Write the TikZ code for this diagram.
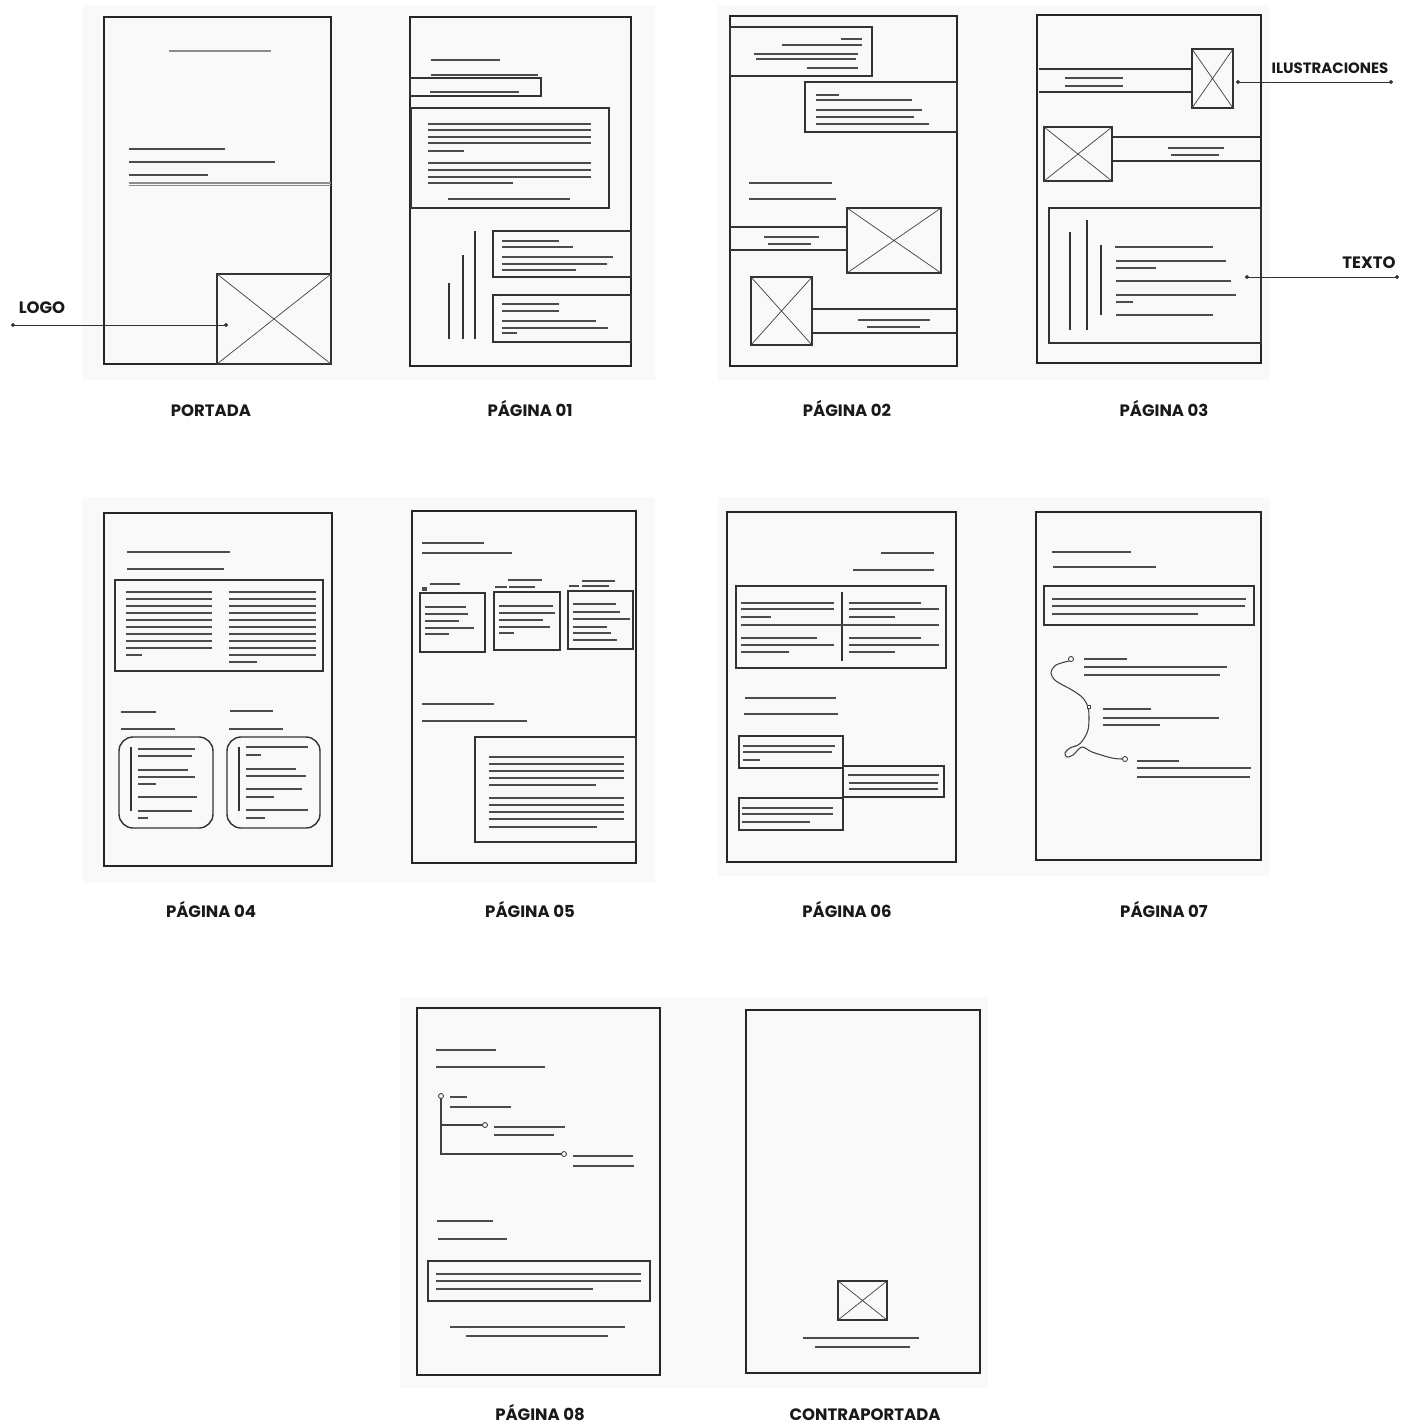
\documentclass[tikz,border=0pt]{standalone}
\usepackage{fontspec}
\newfontfamily\lblfont{Poppins}
\usetikzlibrary{arrows.meta}

\begin{document}
\begin{tikzpicture}[x=0.02cm, y=-0.02cm,
		sheet/.style={fill=black!2.5, draw=none},
		page/.style={draw=black!85, line width=1.3pt},
		box/.style={draw=black!80, line width=0.8pt},
		txt/.style={draw=black!70, line width=1pt},
		rule/.style={draw=black!80, line width=1.2pt},
		cross/.style={draw=black!75, line width=0.4pt},
		knot/.style={draw=black!75, line width=0.5pt, fill=white},
		pointer/.style={draw=black!80, line width=0.5pt, {Circle[length=2.2pt]}-{Circle[length=2.2pt]}},
		lbl/.style={anchor=base, font=\lblfont\bfseries\fontsize{9.4}{11}\selectfont, text=black!90}]
	\useasboundingbox (0,0) rectangle (1401,1424);

	% fotos de fondo
	\fill[sheet] (82,5) rectangle (655,380);
	\fill[sheet] (718,5) rectangle (1270,380);
	\fill[sheet] (82,497) rectangle (655,883);
	\fill[sheet] (718,497) rectangle (1270,876);
	\fill[sheet] (400,997) rectangle (988,1388);

	% portada
	\draw[page] (104,17) rectangle (331,364);
	\draw[txt, black!45] (169,51) -- (271,51);
	\draw[txt, line width=1.4pt] (129,149) -- (225,149);
	\draw[txt] (129,162) -- (275,162) (129,175) -- (208,175);
	\draw[txt, black!45] (129,183) -- (331,183) (129,185.5) -- (331,185.5);
	\draw[box] (217,274) rectangle (331,364);
	\draw[cross] (217,274) -- (331,364) (217,364) -- (331,274);

	\node[lbl] (logo) at (42,313) {LOGO};
	\coordinate (logoA) at (11,325);
	\coordinate (logoB) at (228,325);
	\draw[pointer] (logoA) -- (logoB);

	% pagina 01
	\draw[page] (410,17) rectangle (631,366);
	\draw[txt] (431,60) -- (500,60) (431,75) -- (538,75);
	\draw[box] (410,78) rectangle (541,96);
	\draw[txt] (430,92) -- (519,92);
	\draw[box] (411,108) rectangle (609,208);
	\draw[txt] (428,124) -- (591,124) (428,130) -- (591,130) (428,137) -- (591,137) (428,143) -- (591,143) (428,151) -- (464,151);
	\draw[txt] (428,163) -- (591,163) (428,170) -- (591,170) (428,177) -- (591,177) (428,183) -- (513,183) (448,199) -- (570,199);
	\draw[rule] (449,283) -- (449,339) (463,255) -- (463,339) (475,231) -- (475,339);
	\draw[box] (493,231) rectangle (631,277);
	\draw[txt] (502,241) -- (559,241) (502,247) -- (573,247) (502,257) -- (613,257) (502,264) -- (607,264) (502,270) -- (576,270);
	\draw[box] (493,295) rectangle (631,342);
	\draw[txt] (502,304) -- (559,304) (502,311) -- (559,311) (502,321) -- (596,321) (502,328) -- (608,328) (502,333) -- (517,333);

	% pagina 02
	\draw[page] (730,16) rectangle (957,366);
	\draw[box] (730,27) rectangle (872,76);
	\draw[txt] (841,39) -- (862,39) (782,45) -- (862,45) (754,54) -- (858,54) (756,59) -- (856,59) (807,68) -- (858,68);
	\draw[box] (805,82) rectangle (957,132);
	\draw[txt] (816,95) -- (839,95) (816,100) -- (912,100) (816,110) -- (922,110) (816,117) -- (914,117) (816,124) -- (929,124);
	\draw[txt] (749,183) -- (832,183) (749,199) -- (836,199);
	\draw[box] (730,227) -- (847,227) (730,250) -- (847,250);
	\draw[box] (847,208) rectangle (941,273);
	\draw[cross] (847,208) -- (941,273) (847,273) -- (941,208);
	\draw[txt] (764,237) -- (819,237) (768,244) -- (811,244);
	\draw[box] (751,277) rectangle (812,345);
	\draw[cross] (751,277) -- (812,345) (751,345) -- (812,277);
	\draw[box] (812,309) -- (957,309) (812,333) -- (957,333);
	\draw[txt] (858,320) -- (930,320) (867,327) -- (920,327);

	% pagina 03
	\draw[page] (1037,15) rectangle (1261,363);
	\draw[box] (1192,49) rectangle (1233,108);
	\draw[cross] (1192,49) -- (1233,108) (1192,108) -- (1233,49);
	\draw[box] (1039,69) -- (1192,69) (1039,92) -- (1192,92);
	\draw[txt] (1065,78) -- (1123,78) (1065,86) -- (1123,86);
	\draw[box] (1044,127) rectangle (1112,181);
	\draw[cross] (1044,127) -- (1112,181) (1044,181) -- (1112,127);
	\draw[box] (1112,137) -- (1261,137) (1112,161) -- (1261,161);
	\draw[txt] (1168,148) -- (1224,148) (1171,155) -- (1219,155);
	\draw[box] (1049,208) rectangle (1261,343);
	\draw[rule, line width=0.8pt] (1070,232) -- (1070,330) (1087,220) -- (1087,330);
	\draw[rule] (1101,245) -- (1101,315);
	\draw[txt] (1115,247) -- (1213,247) (1116,261) -- (1226,261) (1116,268) -- (1156,268) (1116,281) -- (1231,281);
	\draw[txt] (1116,295) -- (1236,295) (1116,302) -- (1133,302) (1116,315) -- (1213,315);

	\node[lbl, font=\lblfont\bfseries\fontsize{8.5}{10}\selectfont] (ilus) at (1330,73) {ILUSTRACIONES};
	\coordinate (ilusA) at (1236,82);
	\coordinate (ilusB) at (1393,82);
	\draw[pointer] (ilusA) -- (ilusB);
	\node[lbl] (texto) at (1369,268) {TEXTO};
	\coordinate (textoA) at (1245,277);
	\coordinate (textoB) at (1399,277);
	\draw[pointer] (textoA) -- (textoB);

	% pagina 04
	\draw[page] (104,513) rectangle (332,866);
	\draw[txt] (127,552) -- (230,552) (127,569) -- (224,569);
	\draw[box] (115,580) rectangle (323,671);
	\draw[txt] (126,592) -- (212,592) (126,599) -- (212,599) (126,606) -- (212,606) (126,613) -- (212,613) (126,620) -- (212,620);
	\draw[txt] (126,627) -- (212,627) (126,634) -- (212,634) (126,641) -- (212,641) (126,648) -- (212,648) (126,655) -- (142,655);
	\draw[txt] (229,592) -- (316,592) (229,599) -- (316,599) (229,606) -- (316,606) (229,613) -- (316,613) (229,620) -- (316,620);
	\draw[txt] (229,627) -- (316,627) (229,634) -- (316,634) (229,641) -- (316,641) (229,648) -- (316,648) (229,655) -- (316,655) (229,662) -- (257,662);
	\draw[txt] (121,712) -- (156,712) (121,729) -- (175,729);
	\draw[box, rounded corners=8pt] (119,737) rectangle (213,828);
	\draw[rule] (131,747) -- (131,811);
	\draw[txt] (138,749) -- (195,749) (138,756) -- (192,756) (138,770) -- (188,770) (138,777) -- (195,777);
	\draw[txt] (138,784) -- (156,784) (138,797) -- (197,797) (138,811) -- (192,811) (138,818) -- (148,818);
	\draw[txt] (230,711) -- (273,711) (229,729) -- (283,729);
	\draw[box, rounded corners=8pt] (227,737) rectangle (320,828);
	\draw[rule] (239,747) -- (239,811);
	\draw[txt] (246,747) -- (308,747) (246,755) -- (261,755) (246,769) -- (296,769) (246,776) -- (306,776);
	\draw[txt] (246,789) -- (302,789) (246,797) -- (274,797) (246,810) -- (308,810) (246,818) -- (265,818);

	% pagina 05
	\draw[page] (412,511) rectangle (636,863);
	\draw[txt] (422,543) -- (484,543) (422,553) -- (512,553);
	\draw[txt] (430,584) -- (460,584);
	\draw[txt, line width=1.8pt] (422,589) -- (427,589);
	\draw[box] (420,593) rectangle (485,652);
	\draw[txt] (425,607) -- (466,607) (425,614) -- (468,614) (425,621) -- (459,621) (425,628) -- (474,628) (425,634) -- (449,634);
	\draw[txt] (508,580) -- (542,580) (495,587) -- (507,587) (509,587) -- (535,587);
	\draw[box] (494,592) rectangle (560,650);
	\draw[txt] (499,606) -- (553,606) (499,613) -- (555,613) (499,620) -- (543,620) (499,627) -- (550,627) (499,633) -- (514,633);
	\draw[txt] (582,581) -- (615,581) (569,586) -- (579,586) (582,586) -- (609,586);
	\draw[box] (568,591) rectangle (633,649);
	\draw[txt] (573,604) -- (616,604) (573,612) -- (620,612) (573,619) -- (630,619) (573,627) -- (607,627) (573,633) -- (611,633) (573,640) -- (617,640);
	\draw[txt] (422,704) -- (494,704) (422,721) -- (527,721);
	\draw[box] (475,737) rectangle (636,842);
	\draw[txt] (489,757) -- (624,757) (489,764) -- (624,764) (489,771) -- (624,771) (489,778) -- (624,778) (489,785) -- (596,785);
	\draw[txt] (489,798) -- (624,798) (489,805) -- (624,805) (489,812) -- (624,812) (489,819) -- (624,819) (489,827) -- (597,827);

	% pagina 06
	\draw[page] (727,512) rectangle (956,862);
	\draw[txt] (881,553) -- (934,553) (853,570) -- (934,570);
	\draw[box] (736,586) rectangle (946,668);
	\draw[box] (842,592) -- (842,661);
	\draw[txt] (741,625) -- (939,625);
	\draw[txt] (741,603) -- (834,603) (741,609) -- (834,609) (741,617) -- (771,617) (741,638) -- (817,638) (741,645) -- (834,645) (741,652) -- (789,652);
	\draw[txt] (849,603) -- (921,603) (849,609) -- (939,609) (849,617) -- (895,617) (849,638) -- (921,638) (849,645) -- (939,645) (849,652) -- (895,652);
	\draw[txt] (745,698) -- (836,698) (744,714) -- (838,714);
	\draw[box] (739,736) rectangle (843,768);
	\draw[txt] (743,746) -- (835,746) (743,752) -- (832,752) (743,760) -- (760,760);
	\draw[box] (843,766) rectangle (944,797);
	\draw[txt] (848,775) -- (939,775) (849,783) -- (938,783) (849,789) -- (938,789);
	\draw[box] (739,798) rectangle (843,830);
	\draw[txt] (742,808) -- (833,808) (742,814) -- (833,814) (742,822) -- (810,822);

	% pagina 07
	\draw[page] (1036,512) rectangle (1261,860);
	\draw[txt] (1052,552) -- (1131,552) (1053,567) -- (1156,567);
	\draw[box] (1044,586) rectangle (1254,625);
	\draw[txt] (1052,599) -- (1246,599) (1052,606) -- (1245,606) (1052,614) -- (1198,614);
	\draw[cross, line width=0.6pt] plot[smooth, tension=0.55] coordinates {(1069,661) (1056,665) (1051,673) (1056,681) (1072,690) (1083,698) (1088,707) (1089,717) (1088,730) (1083,740) (1078,745) (1070,748) (1065,753) (1067,757) (1073,755) (1082,747) (1092,752) (1112,758) (1123,759)};
	\draw[knot] (1071,659) circle [radius=2.5];
	\draw[knot] (1087,705.5) rectangle (1090,708.5);
	\draw[knot] (1125,759) circle [radius=2.5];
	\draw[txt] (1084,659) -- (1127,659) (1084,667) -- (1227,667) (1084,675) -- (1220,675);
	\draw[txt] (1103,709) -- (1151,709) (1103,718) -- (1219,718) (1103,725) -- (1160,725);
	\draw[txt] (1137,761) -- (1179,761) (1137,768) -- (1251,768) (1137,777) -- (1250,777);

	% pagina 08
	\draw[page] (417,1008) rectangle (660,1375);
	\draw[txt] (436,1050) -- (496,1050) (436,1067) -- (545,1067);
	\draw[cross, line width=0.7pt] (441,1096) -- (441,1154) -- (564,1154) (442,1125) -- (485,1125);
	\draw[knot] (441,1096) circle [radius=2.5];
	\draw[knot] (485,1125) circle [radius=2.5];
	\draw[knot] (564,1154) circle [radius=2.5];
	\draw[txt] (450,1097) -- (467,1097) (450,1107) -- (511,1107);
	\draw[txt] (494,1127) -- (565,1127) (494,1135) -- (554,1135);
	\draw[txt] (573,1156) -- (633,1156) (573,1166) -- (634,1166);
	\draw[txt] (437,1221) -- (493,1221) (438,1239) -- (507,1239);
	\draw[box] (428,1261) rectangle (650,1301);
	\draw[txt] (436,1274) -- (641,1274) (436,1281) -- (641,1281) (436,1289) -- (593,1289);
	\draw[txt] (450,1327) -- (625,1327) (466,1336) -- (608,1336);

	% contraportada
	\draw[page] (746,1010) rectangle (980,1373);
	\draw[box] (838,1281) rectangle (887,1320);
	\draw[cross] (838,1281) -- (887,1320) (838,1320) -- (887,1281);
	\draw[txt] (803,1338) -- (919,1338) (815,1347) -- (910,1347);

	% titulos
	\node[lbl] (portada) at (211,416) {PORTADA};
	\node[lbl] (pag01) at (530,416) {PÁGINA 01};
	\node[lbl] (pag02) at (847,416) {PÁGINA 02};
	\node[lbl] (pag03) at (1164,416) {PÁGINA 03};
	\node[lbl] (pag04) at (211,917) {PÁGINA 04};
	\node[lbl] (pag05) at (530,917) {PÁGINA 05};
	\node[lbl] (pag06) at (847,917) {PÁGINA 06};
	\node[lbl] (pag07) at (1164,917) {PÁGINA 07};
	\node[lbl] (pag08) at (540,1420) {PÁGINA 08};
	\node[lbl] (contra) at (865,1420) {CONTRAPORTADA};
\end{tikzpicture}
\end{document}
